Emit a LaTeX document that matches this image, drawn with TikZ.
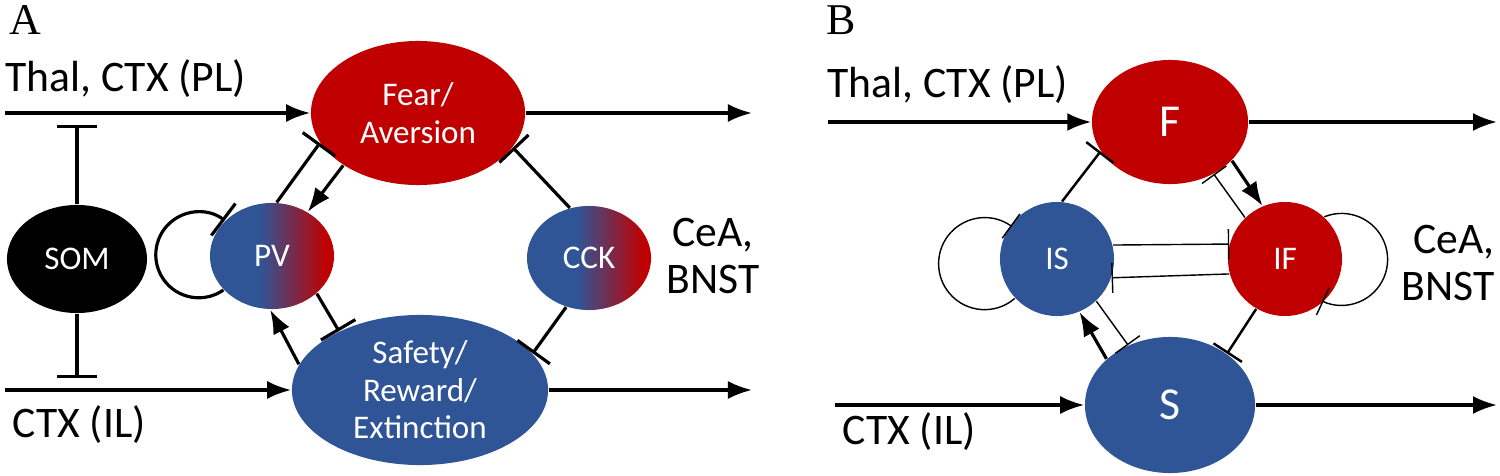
\documentclass[tikz,border=0pt]{standalone}
\usepackage{fontspec}
\setsansfont{Carlito}
\newfontfamily\panelfont{Liberation Serif}
\usetikzlibrary{arrows.meta,shapes.geometric}
\definecolor{fearred}{RGB}{192,0,0}
\definecolor{safeblue}{RGB}{47,85,151}
\pgfdeclarehorizontalshading{bluered}{100bp}{color(0bp)=(safeblue); color(45bp)=(safeblue); color(72bp)=(fearred); color(100bp)=(fearred)}

\begin{document}
\begin{tikzpicture}
            [x=0.01cm,y=-0.01cm,
             cell/.style={ellipse,inner sep=0pt,text=white,align=center,font=\sffamily\fontsize{9.4}{10.7}\selectfont},
             bigcell/.style={cell,font=\sffamily\fontsize{13}{15}\selectfont},
             lbl/.style={inner sep=0pt,font=\sffamily\fontsize{12.4}{13.2}\selectfont},
             panel/.style={inner sep=0pt,font=\panelfont\fontsize{12.5}{14}\selectfont},
             exc/.style={line width=0.9pt,-{Latex[length=2.4mm,width=1.8mm]}},
             inh/.style={line width=0.9pt,-{Bar[width=4mm]}},
             inhm/.style={line width=0.7pt,-{Bar[width=3.4mm]}},
             inht/.style={line width=0.4pt,-{Bar[width=3mm]}}]
            \useasboundingbox (0,0) rectangle (1500,476);

            \node[panel] (labA) at (25,20) {A};
            \node[lbl,anchor=base west] (thalA) at (5,92) {Thal, CTX (PL)};
            \node[lbl,anchor=base west] (ctxA) at (12,437) {CTX (IL)};
            \node[lbl,align=center] (ceaA) at (713,256) {CeA,\\BNST};

            \node[cell,fill=fearred,minimum width=2.14cm,minimum height=1.44cm] (Fear) at (418,113) {Fear/\\Aversion};
            \node[cell,fill=black,minimum width=1.40cm,minimum height=1.08cm] (SOM) at (77,259) {SOM};
            \node[cell,shading=bluered,minimum width=1.24cm,minimum height=1.06cm] (PV) at (272,256) {PV};
            \node[cell,shading=bluered,minimum width=1.24cm,minimum height=1.04cm] (CCK) at (589,258) {CCK};
            \node[cell,fill=safeblue,minimum width=2.56cm,minimum height=1.50cm] (Safety) at (420,390) {Safety/\\Reward/\\Extinction};

            \coordinate (inA1) at (5,113);
            \coordinate (outA1) at (752,113);
            \coordinate (inA2) at (5,390);
            \coordinate (outA2) at (752,390);
            \coordinate (somtop) at (77,125);
            \coordinate (sombot) at (77,378);

            \draw[exc] (inA1) -- (Fear);
            \draw[exc] (Fear) -- (outA1);
            \draw[exc] (inA2) -- (Safety);
            \draw[exc] (Safety) -- (outA2);
            \draw[inh] (SOM) -- (somtop);
            \draw[inh] (SOM) -- (sombot);
            \draw[exc] (Fear.215) -- (PV.51);
            \draw[inh] (PV.85) -- (Fear.197);
            \draw[inh] (PV.320) -- (Safety.144);
            \draw[exc] (Safety.168) -- (PV.268);
            \draw[inh] (CCK.111) -- (Fear.340);
            \draw[inh] (CCK.245) -- (Safety.18);
            \draw[inh] (PV.215) arc[start angle=55,end angle=307,radius=43];

            \node[panel] (labB) at (841,20) {B};
            \node[lbl,anchor=base west] (thalB) at (827,98) {Thal, CTX (PL)};
            \node[lbl,anchor=base west] (ctxB) at (842,444) {CTX (IL)};
            \node[lbl,align=right] (ceaB) at (1448,263) {CeA,\\BNST};

            \node[bigcell,fill=fearred,minimum width=1.56cm,minimum height=1.24cm] (F) at (1170,122) {F};
            \node[cell,fill=safeblue,minimum size=1.14cm] (IS) at (1057,259) {IS};
            \node[cell,fill=fearred,minimum size=1.14cm] (IF) at (1285,259) {IF};
            \node[bigcell,fill=safeblue,minimum width=1.70cm,minimum height=1.36cm] (S) at (1170,405) {S};

            \coordinate (inB1) at (828,122);
            \coordinate (outB1) at (1497,122);
            \coordinate (inB2) at (835,405);
            \coordinate (outB2) at (1497,405);

            \draw[exc] (inB1) -- (F);
            \draw[exc] (F) -- (outB1);
            \draw[exc] (inB2) -- (S);
            \draw[exc] (S) -- (outB2);
            \draw[inhm] (IS.85) -- (F.203);
            \draw[exc] (F.328) -- (IF.113);
            \draw[inht] (IF.134) -- (F.310);
            \draw[inht] (IS.14) -- (IF.165);
            \draw[inht] (IF.195) -- (IS.341);
            \draw[exc] (S.144) -- (IS.293);
            \draw[inht] (IS.313) -- (S.125);
            \draw[inhm] (IF.240) -- (S.42);
            \draw[inht] (IS.223) arc[start angle=49,end angle=306,radius=46];
            \draw[inht] (IF.47) arc[start angle=-112,end angle=115,radius=46];
        \end{tikzpicture}
\end{document}
